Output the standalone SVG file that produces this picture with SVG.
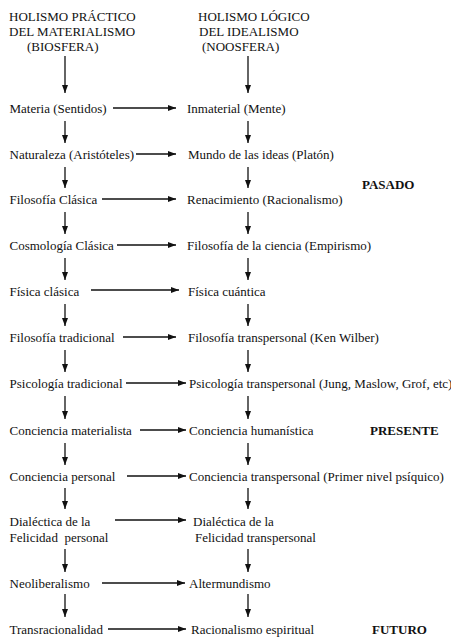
<svg xmlns="http://www.w3.org/2000/svg" width="451" height="639" viewBox="0 0 451 639">
<style>
text{font-family:"Liberation Serif","Times New Roman",serif;font-size:13px;fill:#111}
.b{font-weight:bold}
.c line{stroke:#111;stroke-width:1.3;marker-end:url(#ah)}
</style>
<defs>
<marker id="ah" markerUnits="userSpaceOnUse" markerWidth="8" markerHeight="6" refX="8" refY="3" orient="auto">
<path d="M0,0 L8,3 L0,6 z" fill="#111"/>
</marker>
</defs>
<rect width="451" height="639" fill="#fff"/>
<g id="hdr-left"><text x="9" y="20.5">HOLISMO PRÁCTICO</text><text x="9" y="35.5">DEL MATERIALISMO</text><text x="27" y="51">(BIOSFERA)</text></g>
<g id="hdr-right"><text x="198" y="20.5">HOLISMO LÓGICO</text><text x="199" y="35.5">DEL IDEALISMO</text><text x="202" y="51">(NOOSFERA)</text></g>
<g id="l1"><text x="9.5" y="112.5">Materia (Sentidos)</text></g>
<g id="r1"><text x="187" y="112.5">Inmaterial (Mente)</text></g>
<g id="l2"><text x="9.5" y="158.5">Naturaleza (Aristóteles)</text></g>
<g id="r2"><text x="188" y="158.5">Mundo de las ideas (Platón)</text></g>
<g id="l3"><text x="9.5" y="203.5">Filosofía Clásica</text></g>
<g id="r3"><text x="187" y="203.5">Renacimiento (Racionalismo)</text></g>
<g id="l4"><text x="9.5" y="249.5">Cosmología Clásica</text></g>
<g id="r4"><text x="187" y="249.5">Filosofía de la ciencia (Empirismo)</text></g>
<g id="l5"><text x="9.5" y="295.5">Física clásica</text></g>
<g id="r5"><text x="188" y="295.5">Física cuántica</text></g>
<g id="l6"><text x="9.5" y="341.5">Filosofía tradicional</text></g>
<g id="r6"><text x="188" y="341.5">Filosofía transpersonal (Ken Wilber)</text></g>
<g id="l7"><text x="9.5" y="387.5">Psicología tradicional</text></g>
<g id="r7"><text x="189" y="387.5">Psicología transpersonal (Jung, Maslow, Grof, etc)</text></g>
<g id="l8"><text x="9.5" y="434.5">Conciencia materialista</text></g>
<g id="r8"><text x="189" y="434.5">Conciencia humanística</text></g>
<g id="l9"><text x="9.5" y="480.5">Conciencia personal</text></g>
<g id="r9"><text x="189" y="480.5">Conciencia transpersonal (Primer nivel psíquico)</text></g>
<g id="l10"><text x="9.5" y="526">Dialéctica de la</text><text x="9.5" y="542" xml:space="preserve">Felicidad  personal</text></g>
<g id="r10"><text x="193" y="526">Dialéctica de la</text><text x="195" y="542">Felicidad transpersonal</text></g>
<g id="l11"><text x="9.5" y="587.5">Neoliberalismo</text></g>
<g id="r11"><text x="189" y="587.5">Altermundismo</text></g>
<g id="l12"><text x="9.5" y="633.5">Transracionalidad</text></g>
<g id="r12"><text x="191" y="633.5">Racionalismo espiritual</text></g>
<g id="era-pasado"><text class="b" x="362" y="188.5">PASADO</text></g>
<g id="era-presente"><text class="b" x="370" y="434.5">PRESENTE</text></g>
<g id="era-futuro"><text class="b" x="372" y="633.5">FUTURO</text></g>
<g id="connectors" class="c">
<line x1="65" y1="56" x2="65" y2="93"/><line x1="248" y1="56" x2="248" y2="93"/>
<line x1="65" y1="121" x2="65" y2="143"/><line x1="248" y1="121" x2="248" y2="143"/>
<line x1="65" y1="167" x2="65" y2="188"/><line x1="248" y1="167" x2="248" y2="188"/>
<line x1="65" y1="212" x2="65" y2="234"/><line x1="248" y1="212" x2="248" y2="234"/>
<line x1="65" y1="258" x2="65" y2="280"/><line x1="248" y1="258" x2="248" y2="280"/>
<line x1="65" y1="304" x2="65" y2="326"/><line x1="248" y1="304" x2="248" y2="326"/>
<line x1="65" y1="350" x2="65" y2="372"/><line x1="248" y1="350" x2="248" y2="372"/>
<line x1="65" y1="396" x2="65" y2="419"/><line x1="248" y1="396" x2="248" y2="419"/>
<line x1="65" y1="443" x2="65" y2="465"/><line x1="248" y1="443" x2="248" y2="465"/>
<line x1="65" y1="488" x2="65" y2="509"/><line x1="248" y1="488" x2="248" y2="509"/>
<line x1="65" y1="549" x2="65" y2="572"/><line x1="248" y1="549" x2="248" y2="572"/>
<line x1="65" y1="594" x2="65" y2="617"/><line x1="248" y1="594" x2="248" y2="617"/>
<line x1="113" y1="108" x2="176" y2="108"/>
<line x1="136" y1="154" x2="176" y2="154"/>
<line x1="102" y1="199" x2="176" y2="199"/>
<line x1="117" y1="245" x2="176" y2="245"/>
<line x1="91" y1="290" x2="179" y2="290"/>
<line x1="123" y1="337" x2="176" y2="337"/>
<line x1="126" y1="383" x2="186" y2="383"/>
<line x1="140" y1="430" x2="186" y2="430"/>
<line x1="127" y1="476" x2="186" y2="476"/>
<line x1="115" y1="520" x2="186" y2="520"/>
<line x1="102" y1="583" x2="185" y2="583"/>
<line x1="108" y1="629" x2="186" y2="629"/>
</g>
</svg>
